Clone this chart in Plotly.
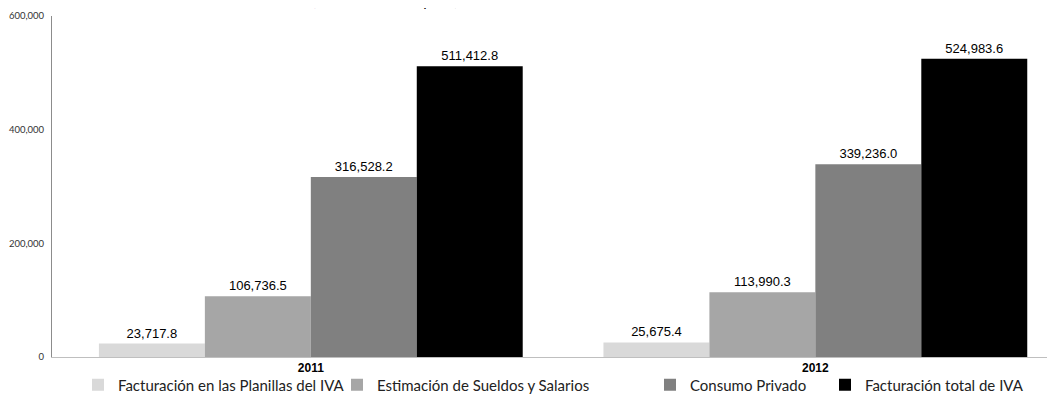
import plotly.graph_objects as go

years = ["2011", "2012"]
series_names = [
    "Facturación en las Planillas del IVA",
    "Estimación de Sueldos y Salarios",
    "Consumo Privado",
    "Facturación total de IVA",
]
planillas = [23717.8, 25675.4]
sueldos = [106736.5, 113990.3]
consumo = [316528.2, 339236.0]
total_iva = [511412.8, 524983.6]
colors = ["#d9d9d9", "#a6a6a6", "#808080", "#000000"]
y_ticks = [0, 200000, 400000, 600000]

# the page adds an 8px body margin, so figure pixels = screen pixels - 8
ML, MR, MT, MB = 44, 8, 8, 56
PW = 1055 - ML - MR
PH = 405 - MT - MB

legend_keys = ["legend", "legend2", "legend3", "legend4"]
legend_left_px = [70, 329, 642, 817]

fig = go.Figure()
for name, vals, c, lg in zip(series_names, [planillas, sueldos, consumo, total_iva], colors, legend_keys):
    fig.add_trace(go.Bar(
        x=years, y=vals, name=name, marker=dict(color=c, line=dict(width=0)),
        text=[f"{v:,.1f}" for v in vals], textposition="outside",
        textfont=dict(family="Liberation Sans", size=13, color="#000000"),
        cliponaxis=False, legend=lg,
    ))

fig.add_annotation(
    text="(Millones de Lempiras)", xref="paper", yref="paper",
    x=(377 - ML) / PW, y=1.0,
    yshift=5, yanchor="bottom", xanchor="center", showarrow=False,
    font=dict(family="Lato", size=15, color="#000000"),
)

legend_layout = {}
for lg, px in zip(legend_keys, legend_left_px):
    legend_layout[lg] = dict(
        orientation="h", x=(px - ML) / PW, xanchor="left",
        y=-28 / PH, yanchor="middle",
        font=dict(family="Lato", size=15, color="#222222"),
        itemwidth=30, bgcolor="rgba(0,0,0,0)",
    )

fig.update_layout(
    width=1055, height=405,
    margin=dict(l=ML, r=MR, t=MT, b=MB, autoexpand=False),
    paper_bgcolor="white", plot_bgcolor="white",
    barmode="group", bargap=0.16, bargroupgap=0,
    showlegend=True,
    xaxis=dict(type="category", range=[-0.513, 1.475], showline=True, linecolor="#bfbfbf",
               linewidth=1, ticks="", tickfont=dict(family="Liberation Sans", size=12, color="#000000",
               weight="bold")),
    yaxis=dict(range=[0, 600000], tickvals=y_ticks, tickformat=",", showgrid=False,
               showline=True, linecolor="#8c8c8c", linewidth=1, ticks="", zeroline=False,
               ticklabelstandoff=5,
               tickfont=dict(family="Lato", size=9.5, color="#333333")),
    **legend_layout,
)

fig.write_html("out.html")
